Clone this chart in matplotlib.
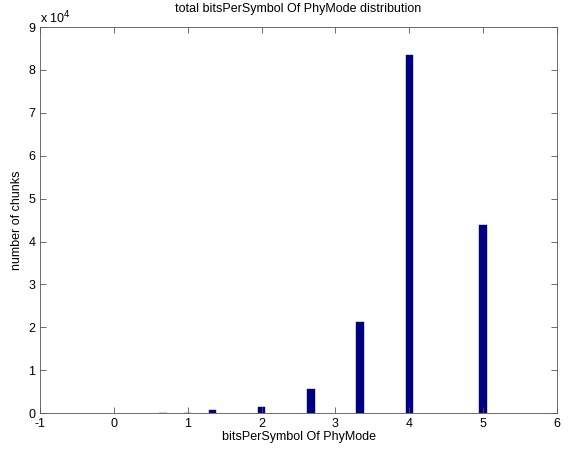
import matplotlib
matplotlib.use("Agg")
import matplotlib.pyplot as plt

plt.rcParams['font.family'] = ['Liberation Sans', 'DejaVu Sans']
plt.rcParams['axes.unicode_minus'] = False

# bits per symbol values and chunk counts
bits_per_symbol = [2/3, 1.0, 4/3, 2.0, 8/3, 10/3, 4.0, 5.0]
num_chunks = [120, 120, 700, 1400, 5600, 21200, 83500, 43900]

fig = plt.figure(figsize=(5.73, 4.5), dpi=100)
ax = fig.add_axes([0.070, 0.082, 0.902, 0.858])

ax.bar(bits_per_symbol, num_chunks, width=0.1, color='#000080', edgecolor='#000080', linewidth=0.3)

ax.set_xlim(-1, 6)
ax.set_ylim(0, 90000)
ax.set_xticks(range(-1, 7))
ax.set_yticks([i * 10000 for i in range(10)])
ax.set_yticklabels([str(i) for i in range(10)])
ax.tick_params(direction='in', top=True, right=True, labelsize=9, length=4, width=0.6, color='#555555')
for s in ax.spines.values():
    s.set_linewidth(0.6)
    s.set_color('#555555')

ax.text(0.0, 1.003, r'x 10$^4$', transform=ax.transAxes, fontsize=9, va='bottom', ha='left')
ax.set_title('total bitsPerSymbol Of PhyMode distribution', fontsize=9, pad=11)
ax.set_xlabel('bitsPerSymbol Of PhyMode', fontsize=9, labelpad=1)
ax.set_ylabel('number of chunks', fontsize=9, labelpad=4)

fig.savefig('out.png', dpi=100)
